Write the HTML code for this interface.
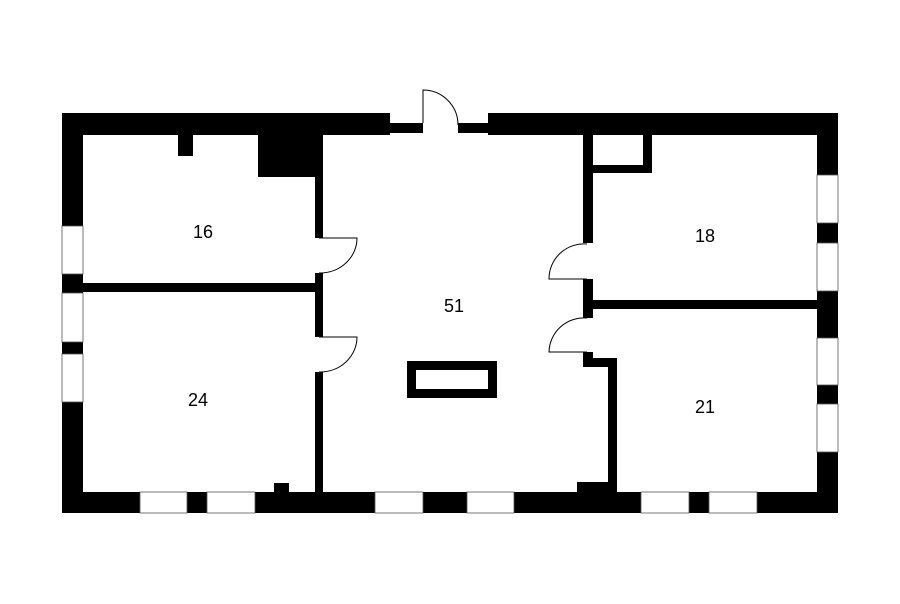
<!DOCTYPE html>
<html><head><style>body{margin:0;background:#fff}svg{display:block}</style></head><body>
<svg width="900" height="604" viewBox="0 0 900 604" xmlns="http://www.w3.org/2000/svg">
<rect width="900" height="604" fill="#fff"/>
<g fill="#000">
<!-- top wall -->
<rect x="62" y="113" width="328" height="22"/>
<rect x="390" y="123" width="33" height="10"/>
<rect x="458" y="123" width="30" height="10"/>
<rect x="488" y="113" width="350" height="22"/>
<!-- left wall -->
<rect x="62" y="113" width="21" height="113"/>
<rect x="62" y="274" width="21" height="19"/>
<rect x="62" y="342" width="21" height="12"/>
<rect x="62" y="402" width="21" height="111"/>
<!-- right wall -->
<rect x="817" y="113" width="21" height="62"/>
<rect x="817" y="223" width="21" height="20"/>
<rect x="817" y="291" width="21" height="47"/>
<rect x="817" y="385" width="21" height="19"/>
<rect x="817" y="452" width="21" height="61"/>
<!-- bottom wall -->
<rect x="62" y="492" width="78" height="21"/>
<rect x="187" y="492" width="20" height="21"/>
<rect x="255" y="492" width="120" height="21"/>
<rect x="423" y="492" width="44" height="21"/>
<rect x="514" y="492" width="127" height="21"/>
<rect x="689" y="492" width="20" height="21"/>
<rect x="757" y="492" width="81" height="21"/>
<rect x="274" y="483" width="15" height="10"/>
<!-- room 16 details -->
<rect x="178" y="135" width="15" height="21"/>
<rect x="258" y="135" width="65" height="42"/>
<rect x="315" y="135" width="8" height="103"/>
<rect x="315" y="273" width="8" height="64"/>
<rect x="83" y="283" width="232" height="9"/>
<rect x="315" y="372" width="8" height="120"/>
<!-- right interior -->
<rect x="583" y="135" width="10" height="108"/>
<rect x="593" y="165" width="59" height="8"/>
<rect x="643" y="135" width="9" height="38"/>
<rect x="583" y="279" width="10" height="39"/>
<rect x="593" y="300" width="224" height="9"/>
<rect x="583" y="352" width="10" height="14"/>
<rect x="583" y="358" width="34" height="9"/>
<rect x="608" y="358" width="9" height="134"/>
<rect x="577" y="482" width="40" height="10"/>
<!-- pillar -->
<rect x="407" y="361" width="90" height="37"/>
</g>
<rect x="416" y="370" width="72" height="19" fill="#fff"/>
<!-- window outlines -->
<g fill="none" stroke="#555" stroke-width="0.8">
<rect x="62" y="226" width="21" height="48"/>
<rect x="62" y="293" width="21" height="49"/>
<rect x="62" y="354" width="21" height="48"/>
<rect x="817" y="175" width="21" height="48"/>
<rect x="817" y="243" width="21" height="48"/>
<rect x="817" y="338" width="21" height="47"/>
<rect x="817" y="404" width="21" height="48"/>
<rect x="140" y="492" width="47" height="21"/>
<rect x="207" y="492" width="48" height="21"/>
<rect x="375" y="492" width="48" height="21"/>
<rect x="467" y="492" width="47" height="21"/>
<rect x="641" y="492" width="48" height="21"/>
<rect x="709" y="492" width="48" height="21"/>
</g>
<!-- doors -->
<g fill="none" stroke="#000" stroke-width="1">
<path d="M423 123 L423 90 A35 35 0 0 1 458 125"/>
<path d="M319 238 L357 238 A37 35 0 0 1 319 273"/>
<path d="M319 337 L357 337 A37 35 0 0 1 319 372"/>
<path d="M587 244 A35 35 0 0 0 549 279 L587 279"/>
<path d="M587 318 A35 35 0 0 0 549 352 L587 352"/>
</g>
<g font-family="Liberation Sans, sans-serif" font-size="18" fill="#000" text-anchor="middle">
<text x="203" y="238">16</text>
<text x="198" y="406">24</text>
<text x="454" y="312">51</text>
<text x="705" y="242">18</text>
<text x="705" y="413">21</text>
</g>
</svg>
</body></html>
